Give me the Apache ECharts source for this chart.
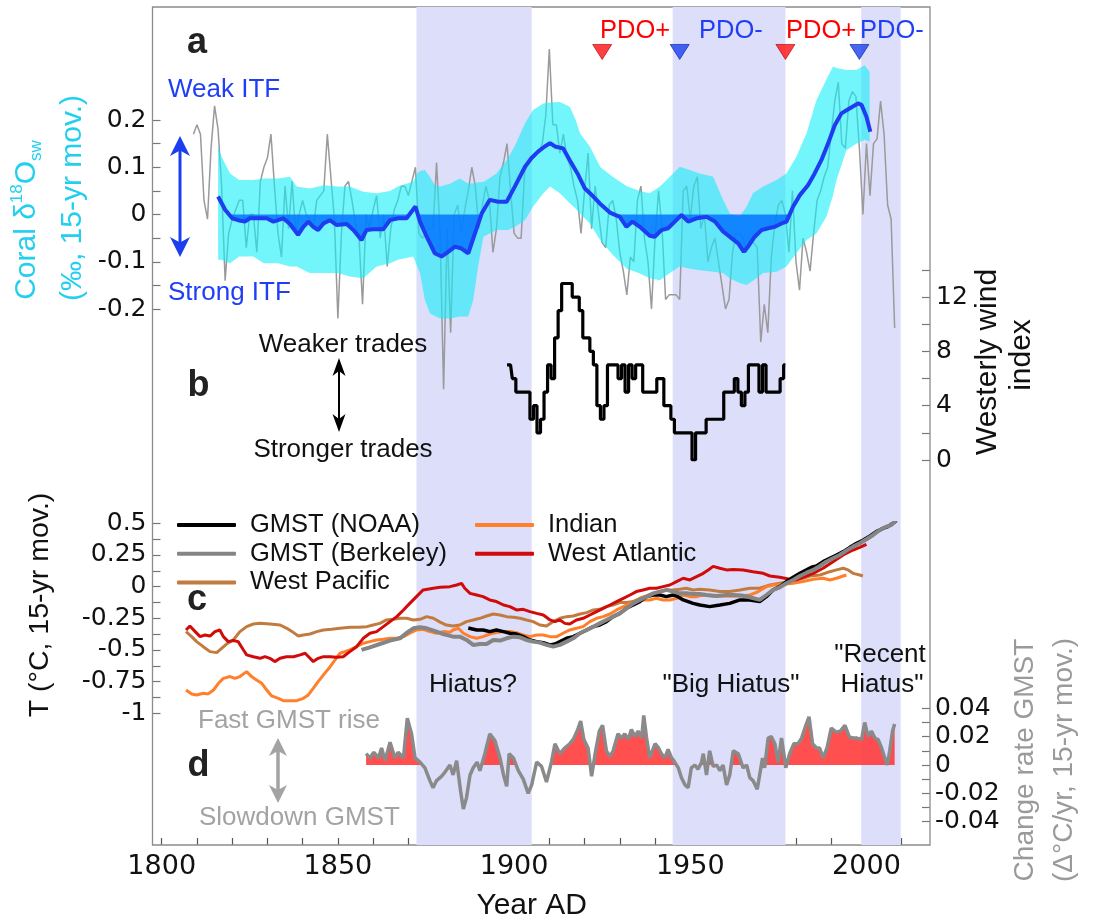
<!DOCTYPE html>
<html><head><meta charset="utf-8">
<script src="https://cdn.jsdelivr.net/npm/echarts@6/dist/echarts.min.js"></script>
<style>html,body{margin:0;padding:0;background:#fff}#chart{width:1095px;height:915px}</style>
</head><body><div id="chart"></div>
<script>
// ---------------- DATA ----------------
const hiatusBands = [[1872.3, 1905], [1945, 1977], [1998.5, 2009.7]];
const pdoYears = [1925, 1947, 1977, 1998];
const pdoLabels = ['PDO+', 'PDO-', 'PDO+', 'PDO-'];

// panel a: annual coral d18Osw (grey), start year 1809
const coralStart = 1809;
const coralAnnual = [
 0.17,0.19,0.17,0.03,-0.01,0.14,0.23,0.18,0.06,-0.14,
 -0.04,-0.01,0.01,0.03,0.03,-0.07,0.00,0.00,-0.08,0.07,
 0.10,0.12,0.17,0.06,-0.04,-0.09,0.06,-0.03,0.07,-0.04,
 0.00,0.03,0.00,-0.01,-0.03,0.03,0.04,0.05,0.17,0.08,
 -0.01,-0.22,-0.04,0.06,0.07,0.03,-0.02,-0.05,-0.19,0.00,
 -0.03,0.01,0.04,-0.05,0.00,-0.11,-0.03,0.01,0.03,0.06,
 0.06,0.04,0.07,0.10,-0.04,-0.05,-0.04,-0.03,-0.03,0.11,
 -0.04,-0.37,-0.03,-0.25,0.00,0.02,-0.04,0.01,0.05,0.10,
 0.06,-0.03,0.02,0.06,0.03,-0.08,-0.03,0.08,0.11,0.15,
 0.05,-0.04,-0.05,-0.05,0.09,0.11,0.12,0.13,0.13,0.15,
 0.21,0.35,0.19,0.19,0.13,0.17,0.12,0.10,0.06,0.03,
 -0.04,0.05,0.13,-0.03,0.06,0.00,-0.06,-0.07,0.02,0.03,
 -0.01,-0.08,-0.12,-0.17,-0.09,-0.10,0.03,0.06,-0.05,-0.10,
 -0.20,-0.05,0.05,-0.03,-0.18,-0.17,-0.17,-0.17,-0.18,0.05,
 0.06,-0.01,0.06,0.08,-0.03,0.00,-0.10,-0.07,-0.05,-0.10,
 -0.15,-0.20,-0.18,-0.08,-0.04,-0.04,-0.05,-0.08,-0.05,-0.06,
 -0.07,-0.27,-0.19,-0.25,-0.09,-0.02,0.02,0.03,0.00,-0.08,
 0.05,-0.10,-0.16,-0.05,-0.08,-0.12,-0.04,0.03,0.05,0.08,
 0.10,0.17,0.24,0.28,0.15,0.14,0.24,0.26,0.25,0.14,
 0.00,0.15,0.04,0.15,0.16,0.24,0.17,0.02,-0.01,-0.24
];
// panel a: 15-yr moving mean [year, value]
const coralMean = [[1816,0.038],[1818,0.010],[1820,-0.008],[1821.7,-0.012],[1823.6,-0.015],[1825,-0.008],[1827,-0.008],[1829.8,-0.008],[1831.7,-0.015],[1834.5,-0.008],[1836.4,-0.020],[1838.7,-0.043],[1840.2,-0.026],[1841.6,-0.015],[1843,-0.026],[1844.4,-0.033],[1845.9,-0.019],[1847.7,-0.012],[1849.6,-0.022],[1852.5,-0.020],[1854.4,-0.033],[1856.7,-0.054],[1858.1,-0.033],[1860,-0.031],[1862.9,-0.031],[1864.8,-0.012],[1867.1,-0.008],[1869.5,-0.008],[1872,0.017],[1873.3,-0.015],[1875.2,-0.047],[1877.5,-0.082],[1879.4,-0.089],[1881.3,-0.079],[1883.2,-0.068],[1885.1,-0.072],[1887,-0.082],[1888.9,-0.040],[1890.8,0.002],[1893.1,0.031],[1895.5,0.027],[1897.9,0.027],[1900.2,0.059],[1903.1,0.101],[1904.9,0.119],[1906.8,0.133],[1908.7,0.144],[1910.2,0.151],[1911.6,0.144],[1913.9,0.140],[1915.8,0.115],[1918.2,0.084],[1920.1,0.055],[1922.5,0.038],[1924.8,0.020],[1927.2,0.004],[1930,-0.005],[1931.9,-0.026],[1933.6,-0.015],[1935.7,-0.026],[1938.5,-0.045],[1939.9,-0.047],[1941.8,-0.033],[1943.7,-0.029],[1945.6,-0.015],[1947.5,-0.001],[1949.4,-0.015],[1951.8,-0.008],[1954.6,-0.005],[1957,-0.015],[1959.3,-0.036],[1961.7,-0.050],[1963.6,-0.061],[1965.2,-0.079],[1966.4,-0.068],[1968.3,-0.047],[1970.2,-0.033],[1972.1,-0.029],[1974,-0.026],[1975.9,-0.019],[1977.3,-0.015],[1979.2,0.017],[1981.1,0.041],[1983.4,0.062],[1985.3,0.087],[1987.2,0.115],[1989.1,0.150],[1991,0.189],[1992.9,0.214],[1995.3,0.225],[1997.6,0.235],[1998.6,0.232],[2000,0.207],[2001.1,0.175]];
// panel a: uncertainty envelope
const envYears = [1816,1817,1819.4,1822,1826,1829,1833,1836.4,1838.3,1842,1846,1850,1853.4,1857.2,1861,1864.8,1867,1871.4,1872.5,1873.3,1874.7,1876.1,1877.5,1879,1881.8,1884.6,1887,1888.4,1889.8,1891.3,1895,1898.3,1900.5,1903.1,1905.4,1908.3,1910.2,1913,1915.8,1917.5,1918.7,1921.5,1924.5,1928,1932,1935.7,1938.5,1941.4,1944.2,1947,1949.9,1952.7,1956.5,1959.3,1961.2,1964,1966,1967.8,1970.7,1974.5,1977.3,1980.1,1983,1985.8,1988.6,1990.5,1991.5,1994.3,1997.1,1999.5,2000.9];
const envUpper = [0.144,0.122,0.087,0.073,0.073,0.076,0.076,0.080,0.059,0.055,0.062,0.059,0.059,0.048,0.045,0.050,0.059,0.070,0.087,0.092,0.094,0.080,0.062,0.059,0.065,0.076,0.065,0.066,0.068,0.069,0.087,0.119,0.150,0.193,0.221,0.235,0.237,0.238,0.228,0.200,0.172,0.144,0.100,0.080,0.060,0.050,0.045,0.059,0.080,0.101,0.094,0.087,0.080,0.031,0.002,-0.005,0.017,0.045,0.059,0.073,0.087,0.122,0.172,0.242,0.285,0.313,0.310,0.306,0.306,0.316,0.302];
const envLower = [-0.096,-0.096,-0.103,-0.089,-0.089,-0.103,-0.103,-0.110,-0.110,-0.124,-0.124,-0.124,-0.131,-0.135,-0.110,-0.103,-0.096,-0.089,-0.110,-0.124,-0.181,-0.209,-0.215,-0.220,-0.220,-0.216,-0.216,-0.181,-0.110,-0.047,-0.033,-0.033,-0.025,-0.012,0.017,0.045,0.059,0.045,0.024,0.012,0.002,-0.019,-0.055,-0.085,-0.115,-0.125,-0.135,-0.139,-0.124,-0.110,-0.115,-0.118,-0.121,-0.124,-0.135,-0.145,-0.149,-0.140,-0.124,-0.121,-0.110,-0.082,-0.054,-0.040,-0.005,0.040,0.073,0.136,0.150,0.158,0.154];

// panel b: westerly wind index, start year 1898
const windStart = 1898;
const windIndex = [7,7,6,5,5,5,5,3,4,2, 3,5,7,6,9,11,13,13,13,12, 12,11,9,9,8,7,4,3,4,7, 7,7,6,7,5,7,6,7,7,5, 5,5,5,6,6,4,4,3,2,2, 2,2,2,0,2,2,2,3,3,3, 3,3,5,5,5,6,5,4,5,7, 7,7,5,7,5,5,5,5,6,7];

// panel c: temperatures [year, degC]
const westAtlantic = [[1806.9,-0.342],[1808,-0.311],[1809.5,-0.355],[1810.9,-0.395],[1812.3,-0.382],[1813.7,-0.39],[1815.1,-0.355],[1816.5,-0.342],[1817.5,-0.395],[1818.9,-0.434],[1820.3,-0.426],[1821.7,-0.434],[1823.2,-0.5],[1824.1,-0.539],[1826,-0.553],[1827.9,-0.566],[1829.3,-0.553],[1830.7,-0.566],[1832.1,-0.592],[1833.6,-0.566],[1835.4,-0.553],[1837.4,-0.553],[1839.3,-0.539],[1840.7,-0.526],[1842.1,-0.566],[1843,-0.592],[1844.4,-0.566],[1845.9,-0.553],[1847.8,-0.553],[1849.6,-0.558],[1851.5,-0.553],[1853.4,-0.513],[1855.3,-0.474],[1857.2,-0.408],[1859.1,-0.368],[1861,-0.355],[1862.9,-0.316],[1864.8,-0.276],[1866.7,-0.237],[1868.6,-0.184],[1870.4,-0.132],[1872.3,-0.079],[1874.2,-0.026],[1877.1,-0.013],[1879,-0.005],[1881.8,0.0],[1883.7,0.013],[1885.1,0.026],[1886,-0.013],[1887.5,-0.053],[1889.4,-0.066],[1891.2,-0.079],[1893.1,-0.105],[1895,-0.118],[1897,-0.145],[1898.8,-0.158],[1900.7,-0.184],[1902.6,-0.179],[1904.5,-0.197],[1906.4,-0.211],[1908.3,-0.224],[1910.2,-0.263],[1911.6,-0.276],[1913,-0.263],[1914.4,-0.29],[1915.8,-0.295],[1917.7,-0.263],[1919.6,-0.25],[1921.5,-0.224],[1923.4,-0.197],[1925.3,-0.171],[1927.2,-0.145],[1929.1,-0.118],[1931,-0.092],[1932.9,-0.066],[1934.7,-0.039],[1936.6,-0.026],[1938.5,-0.013],[1940.4,-0.013],[1942.3,0.0],[1944.2,0.013],[1946.1,0.04],[1948,0.066],[1949.9,0.053],[1951.8,0.079],[1953.7,0.105],[1955.1,0.132],[1956.5,0.16],[1958.4,0.145],[1960.3,0.132],[1962.2,0.135],[1965,0.132],[1967.8,0.118],[1970.7,0.105],[1972.6,0.084],[1975.4,0.074],[1978.2,0.058],[1980.1,0.053],[1982,0.074],[1984.9,0.105],[1987.7,0.145],[1990.5,0.197],[1993.4,0.25],[1996.2,0.289],[1998.1,0.31],[2000,0.334]];
const indian = [[1806.9,-0.816],[1808.5,-0.847],[1809.9,-0.855],[1811.8,-0.842],[1813.2,-0.847],[1814.7,-0.816],[1816.1,-0.763],[1817.5,-0.724],[1819.4,-0.71],[1820.8,-0.724],[1822.2,-0.71],[1824.1,-0.671],[1825.5,-0.71],[1826.9,-0.737],[1828.4,-0.763],[1829.8,-0.816],[1831.2,-0.863],[1833.1,-0.882],[1834.5,-0.9],[1836.4,-0.9],[1838.3,-0.9],[1840.2,-0.882],[1841.6,-0.855],[1843,-0.803],[1844.4,-0.75],[1845.9,-0.697],[1847.8,-0.632],[1849.2,-0.579],[1850.6,-0.526],[1852,-0.513],[1853.4,-0.5],[1855.3,-0.474],[1857.2,-0.447],[1859.1,-0.434],[1861,-0.421],[1862.9,-0.416],[1864.8,-0.408],[1866.7,-0.408],[1868.6,-0.395],[1870.4,-0.368],[1872.3,-0.342],[1874.2,-0.337],[1876.1,-0.355],[1878,-0.368],[1879.9,-0.355],[1881.8,-0.36],[1882.7,-0.342],[1884.2,-0.329],[1885.6,-0.368],[1887.5,-0.395],[1889.4,-0.408],[1891.2,-0.395],[1893.1,-0.374],[1895,-0.363],[1897,-0.355],[1898.8,-0.355],[1900.7,-0.363],[1902.6,-0.382],[1904.5,-0.395],[1906.4,-0.382],[1908.3,-0.382],[1910.2,-0.395],[1912.1,-0.395],[1913.9,-0.368],[1915.8,-0.342],[1917.7,-0.329],[1919.6,-0.316],[1921.5,-0.276],[1923.4,-0.25],[1925.3,-0.237],[1927.2,-0.216],[1929.1,-0.184],[1931,-0.158],[1932.9,-0.132],[1934.7,-0.118],[1936.6,-0.105],[1938.5,-0.105],[1940.4,-0.092],[1942.3,-0.105],[1944.2,-0.105],[1946.1,-0.092],[1948,-0.066],[1949.9,-0.079],[1951.8,-0.079],[1953.7,-0.066],[1956.5,-0.074],[1959.3,-0.074],[1962,-0.076],[1964.1,-0.074],[1966.9,-0.066],[1969.3,-0.039],[1971.6,0.0],[1973.5,0.013],[1976.3,0.018],[1979.2,0.026],[1982,0.04],[1984.9,0.058],[1987.7,0.066],[1989.6,0.053],[1991.5,0.066],[1993.4,0.084],[1994.3,0.092]];
const westPacific = [[1806.9,-0.355],[1808.5,-0.395],[1809.9,-0.434],[1811.8,-0.474],[1813.7,-0.513],[1815.6,-0.521],[1817,-0.487],[1818.4,-0.453],[1820.3,-0.421],[1822.2,-0.355],[1824.1,-0.316],[1826,-0.295],[1827.9,-0.29],[1830.7,-0.295],[1833.6,-0.303],[1835.5,-0.329],[1837.4,-0.363],[1838.8,-0.39],[1840.2,-0.382],[1842.1,-0.374],[1844,-0.355],[1845.9,-0.342],[1848.2,-0.337],[1850.6,-0.329],[1853.4,-0.321],[1855.8,-0.321],[1858.2,-0.316],[1860,-0.303],[1861.9,-0.29],[1863.8,-0.263],[1865.7,-0.258],[1867.6,-0.25],[1869.5,-0.25],[1871.4,-0.263],[1873.3,-0.258],[1875.2,-0.237],[1877.1,-0.25],[1879,-0.28],[1880.8,-0.303],[1882.7,-0.311],[1884.6,-0.303],[1886.5,-0.276],[1888.4,-0.263],[1890.3,-0.25],[1892.2,-0.232],[1894.1,-0.216],[1896,-0.224],[1897.9,-0.237],[1899.8,-0.242],[1901.7,-0.25],[1903.5,-0.263],[1905.4,-0.276],[1907.3,-0.303],[1909.2,-0.311],[1911.1,-0.276],[1913,-0.25],[1914.9,-0.237],[1916.8,-0.232],[1918.7,-0.216],[1920.6,-0.205],[1922.5,-0.184],[1924.3,-0.179],[1926.2,-0.158],[1928.1,-0.145],[1930,-0.126],[1931.9,-0.126],[1933.8,-0.118],[1935.7,-0.092],[1937.6,-0.074],[1939.5,-0.053],[1941.4,-0.039],[1943.3,-0.026],[1945.1,-0.026],[1947,-0.021],[1948.9,-0.013],[1950.8,-0.026],[1952.7,-0.021],[1955.5,-0.026],[1958.4,-0.039],[1961.2,-0.039],[1964.1,-0.026],[1966.9,-0.013],[1969.7,-0.013],[1972.6,0.013],[1975.4,0.026],[1978.2,0.04],[1981.1,0.058],[1984,0.084],[1986.8,0.092],[1989.6,0.118],[1991.5,0.132],[1993.4,0.145],[1994.8,0.132],[1996.2,0.105],[1998.1,0.092],[1999,0.084]];
const gmstNoaa = [[1887,-0.326],[1889.4,-0.342],[1891.2,-0.342],[1893.1,-0.355],[1895,-0.342],[1897,-0.355],[1898.8,-0.368],[1900.7,-0.374],[1902.6,-0.395],[1904.5,-0.421],[1906.4,-0.434],[1908.3,-0.442],[1910.2,-0.46],[1911.6,-0.453],[1913,-0.434],[1914.9,-0.408],[1916.8,-0.395],[1918.7,-0.368],[1920.6,-0.342],[1922.5,-0.316],[1924.3,-0.303],[1926.2,-0.276],[1928.1,-0.237],[1930,-0.211],[1931.9,-0.171],[1933.8,-0.145],[1935.7,-0.118],[1937.6,-0.079],[1939.5,-0.066],[1941.4,-0.066],[1943.2,-0.079],[1945.1,-0.066],[1946,-0.072],[1948,-0.105],[1950.8,-0.132],[1952.7,-0.145],[1955.5,-0.158],[1958.4,-0.145],[1961.2,-0.132],[1964.1,-0.105],[1966.9,-0.105],[1969.7,-0.118],[1971.6,-0.079],[1973.5,-0.026],[1975.4,0.0],[1977.3,0.04],[1979.2,0.074],[1981.1,0.105],[1983,0.132],[1984.4,0.153],[1985.8,0.163],[1987.7,0.197],[1989.6,0.224],[1991.5,0.25],[1993.4,0.276],[1995.3,0.31],[1997.2,0.342],[1999.1,0.368],[2001,0.4],[2002.8,0.434],[2004.7,0.46],[2006.1,0.474],[2007.5,0.5],[2008.5,0.521]];
const gmstBerkeley = [[1856.7,-0.5],[1859.1,-0.479],[1861.9,-0.453],[1864.8,-0.426],[1867.6,-0.408],[1870,-0.355],[1871.4,-0.329],[1873.3,-0.321],[1875.2,-0.329],[1878,-0.355],[1879.9,-0.375],[1882.7,-0.395],[1884.6,-0.395],[1886.5,-0.421],[1888.4,-0.46],[1890.3,-0.453],[1892.2,-0.453],[1894.1,-0.421],[1896,-0.426],[1897.9,-0.408],[1899.8,-0.395],[1901.7,-0.4],[1903.5,-0.421],[1905.4,-0.434],[1907.3,-0.442],[1909.2,-0.46],[1911.1,-0.474],[1913,-0.46],[1914.9,-0.434],[1916.8,-0.408],[1918.7,-0.368],[1920.6,-0.342],[1922.5,-0.316],[1924.3,-0.29],[1926.2,-0.263],[1928.1,-0.237],[1930,-0.211],[1931.9,-0.171],[1933.8,-0.132],[1935.7,-0.105],[1937.6,-0.079],[1939.5,-0.053],[1941.4,-0.039],[1943.3,-0.026],[1945.1,-0.039],[1947,-0.053],[1948.9,-0.053],[1950.8,-0.058],[1952.7,-0.058],[1954.6,-0.066],[1957.4,-0.074],[1960.3,-0.066],[1962.2,-0.066],[1964.5,-0.07],[1966.9,-0.084],[1969.7,-0.105],[1971.6,-0.066],[1973.5,-0.026],[1975.4,-0.005],[1977.3,0.026],[1979.2,0.053],[1981.1,0.084],[1983,0.11],[1984.9,0.132],[1986.8,0.163],[1988.6,0.197],[1990.5,0.224],[1992.4,0.25],[1994.3,0.284],[1996.2,0.316],[1998.1,0.342],[2000,0.374],[2001.9,0.408],[2003.8,0.447],[2005.7,0.474],[2007.1,0.487],[2008,0.513],[2008.5,0.526]];

// panel d: change rate of GMST [year, degC/yr]
const gmstRate = [[1858,0.008],[1859.1,0.005],[1860.2,0.009],[1861.5,0.005],[1862.4,0.012],[1863.4,0.003],[1864.8,0.016],[1866.2,0.005],[1867.1,0.009],[1868.6,0.005],[1869.7,0.033],[1870.9,0.022],[1871.9,0.005],[1873.3,0.002],[1874.7,-0.002],[1876.1,-0.011],[1877,-0.016],[1878,-0.011],[1879.4,-0.008],[1880.4,-0.005],[1881.8,0.0],[1882.7,-0.007],[1883.7,0.003],[1884.8,-0.018],[1885.6,-0.031],[1886.5,-0.023],[1887.5,-0.007],[1888.4,-0.002],[1889.5,0.002],[1890.3,-0.004],[1891.7,0.008],[1893.1,0.022],[1894.6,0.017],[1896,0.005],[1897,-0.007],[1897.9,-0.015],[1898.6,0.008],[1899.8,0.005],[1901.2,-0.004],[1902.6,-0.01],[1904,-0.02],[1905,-0.014],[1906.4,0.002],[1907.8,-0.001],[1909.2,-0.012],[1910.6,0.002],[1911.6,0.015],[1913,0.008],[1914.4,0.012],[1915.8,0.015],[1916.8,0.018],[1917.9,0.024],[1918.9,0.031],[1919.8,0.018],[1921,0.012],[1922,-0.008],[1923,0.008],[1924.2,0.024],[1925.1,0.028],[1926.2,0.01],[1927.2,0.006],[1928.1,0.01],[1929.5,0.022],[1930.5,0.019],[1931.4,0.022],[1932.4,0.018],[1933.3,0.025],[1934.3,0.02],[1935.2,0.024],[1936.2,0.019],[1936.8,0.035],[1937.6,0.019],[1938.5,0.005],[1940,0.015],[1941,0.012],[1941.8,0.008],[1942.8,0.005],[1943.7,0.011],[1944.7,0.005],[1945.6,0.002],[1946.6,-0.002],[1947.5,-0.009],[1948.5,-0.014],[1949.4,-0.016],[1950.3,-0.002],[1951.3,0.0],[1952.2,-0.003],[1953.2,0.002],[1953.7,0.008],[1954.6,-0.007],[1955.5,0.01],[1956.5,-0.001],[1957.5,0.0],[1958.4,-0.004],[1959.3,0.0],[1960.3,-0.014],[1961.2,-0.007],[1962.2,0.01],[1963.6,0.008],[1965,-0.002],[1966,0.0],[1966.9,-0.009],[1967.8,-0.011],[1969,-0.017],[1969.7,-0.007],[1970.5,0.005],[1971.1,-0.002],[1972.1,0.019],[1973,0.02],[1974,0.015],[1974.9,0.002],[1975.9,0.019],[1977.1,-0.002],[1978.2,0.008],[1979.4,0.015],[1980.6,0.015],[1981.6,0.019],[1982.8,0.028],[1983.7,0.034],[1984.7,0.015],[1985.8,0.012],[1986.7,0.012],[1987.7,0.005],[1988.8,0.012],[1990,0.026],[1991.5,0.023],[1992.6,0.024],[1993.9,0.028],[1995.1,0.02],[1996.2,0.019],[1997.3,0.019],[1998.6,0.018],[1999.5,0.03],[2000.5,0.02],[2001.4,0.024],[2002.4,0.019],[2003.3,0.018],[2004.3,0.012],[2005.2,0.005],[2005.9,0.0],[2006.6,0.01],[2007.4,0.024],[2008,0.029]];

// ---------------- CHART ----------------
const FONT = "'Liberation Sans', Arial, Helvetica, sans-serif";
const NUMFONT = "'DejaVu Sans', Verdana, sans-serif";
const X_MIN = 1800, X_MAX = 2010;
const PLOT_L = 161.7, PLOT_W = 740;
const chart = echarts.init(document.getElementById('chart'), null, {renderer: 'canvas'});

function oneSidedFill(api, pairs, sign) {
  const pts = [];
  for (let i = 0; i < pairs.length; i++) {
    const [x, v] = pairs[i];
    if (i > 0) {
      const [x0, v0] = pairs[i - 1];
      if ((v0 > 0 && v < 0) || (v0 < 0 && v > 0)) {
        const t = v0 / (v0 - v);
        pts.push([x0 + t * (x - x0), 0]);
      }
    }
    pts.push([x, sign > 0 ? Math.max(v, 0) : Math.min(v, 0)]);
  }
  const first = pts[0][0], last = pts[pts.length - 1][0];
  return [[first, 0], ...pts, [last, 0]].map(p => api.coord(p));
}

const tickStyle = {show: true, inside: true, length: 8, lineStyle: {color: '#777', width: 1.2}};
const lblStyle = {color: '#111', fontSize: 25, fontFamily: NUMFONT};
function hiddenX(gi) { return {type: 'value', gridIndex: gi, min: X_MIN, max: X_MAX, show: false}; }

const grids = [
  {left: PLOT_L, width: PLOT_W, top: 7, height: 838},           // 0 axis + bands
  {left: 152.5, width: 777.5, top: 7, height: 838, show: true, borderColor: '#8c8c8c', borderWidth: 1.3, backgroundColor: 'transparent', z: 1}, // 1 frame
  {left: PLOT_L, width: PLOT_W, top: 120, height: 189},          // 2 panel a
  {left: PLOT_L, width: PLOT_W, top: 269.9, height: 190.1},      // 3 panel b
  {left: PLOT_L, width: PLOT_W, top: 523.3, height: 190},        // 4 panel c
  {left: PLOT_L, width: PLOT_W, top: 708.3, height: 113.4}       // 5 panel d
].map(g => Object.assign({containLabel: false, outerBoundsMode: 'none'}, g));

const option = {
  animation: false,
  backgroundColor: '#fff',
  textStyle: {fontFamily: FONT},
  grid: grids,
  xAxis: [
    {type: 'value', gridIndex: 0, min: X_MIN, max: X_MAX, interval: 10,
     axisLine: {show: false}, splitLine: {show: false},
     axisTick: {show: true, inside: true, length: 7, lineStyle: {color: '#555', width: 1.2}},
     axisLabel: {color: '#111', fontSize: 27, fontFamily: NUMFONT, margin: 8,
       formatter: v => (Math.round(v) % 50 === 0 ? String(Math.round(v)) : '')},
     name: 'Year AD', nameLocation: 'middle', nameGap: 46,
     nameTextStyle: {color: '#111', fontSize: 30, fontFamily: FONT}},
    {type: 'value', gridIndex: 1, min: 0, max: 1, show: false},
    hiddenX(2), hiddenX(3), hiddenX(4), hiddenX(5)
  ],
  yAxis: [
    {type: 'value', gridIndex: 0, min: 0, max: 1, show: false},
    {type: 'value', gridIndex: 1, min: 0, max: 1, show: false},
    {type: 'value', gridIndex: 2, min: -0.2, max: 0.2, interval: 0.05, offset: PLOT_L - 152.5,
     axisLine: {show: false}, splitLine: {show: false}, axisTick: tickStyle,
     axisLabel: Object.assign({margin: 6, formatter: v => { const k = Math.round(v * 20); return k % 2 === 0 ? String(k / 20) : ''; }}, lblStyle)},
    {type: 'value', gridIndex: 3, position: 'right', min: 0, max: 14, interval: 2, offset: 930 - (PLOT_L + PLOT_W),
     axisLine: {show: false}, splitLine: {show: false}, axisTick: tickStyle,
     axisLabel: Object.assign({margin: 6, formatter: v => { const k = Math.round(v); return k % 4 === 0 ? String(k) : ''; }}, lblStyle)},
    {type: 'value', gridIndex: 4, min: -1, max: 0.5, interval: 0.125, offset: PLOT_L - 152.5,
     axisLine: {show: false}, splitLine: {show: false}, axisTick: tickStyle,
     axisLabel: Object.assign({margin: 6, formatter: v => { const k = Math.round(v * 8); return k % 2 === 0 ? String(k / 8) : ''; }}, lblStyle)},
    {type: 'value', gridIndex: 5, position: 'right', min: -0.04, max: 0.04, interval: 0.01, offset: 930 - (PLOT_L + PLOT_W),
     axisLine: {show: false}, splitLine: {show: false}, axisTick: tickStyle,
     axisLabel: Object.assign({margin: 5, formatter: v => { const k = Math.round(v * 100); return k % 2 === 0 ? String(k / 100) : ''; }}, lblStyle)}
  ],
  legend: [
    {data: ['GMST (NOAA)', 'GMST (Berkeley)', 'West Pacific'], left: 172, top: 507, orient: 'vertical',
     itemWidth: 59, itemHeight: 4, itemGap: 2.7, icon: 'roundRect', selectedMode: false,
     textStyle: {fontSize: 25.5, color: '#111', fontFamily: FONT, lineHeight: 26, padding: [0, 0, 0, 9]}},
    {data: ['Indian', 'West Atlantic'], left: 470, top: 507, orient: 'vertical',
     itemWidth: 59, itemHeight: 4, itemGap: 2.7, icon: 'roundRect', selectedMode: false,
     textStyle: {fontSize: 25.5, color: '#111', fontFamily: FONT, lineHeight: 26, padding: [0, 0, 0, 9]}}
  ],
  series: [
    // hiatus bands
    {type: 'line', xAxisIndex: 0, yAxisIndex: 0, data: [[X_MIN, 0], [X_MAX, 0]], symbol: 'none', silent: true,
     lineStyle: {opacity: 0}, z: 0,
     markArea: {silent: true, itemStyle: {color: '#dddefa'}, data: hiatusBands.map(b => [{xAxis: b[0]}, {xAxis: b[1]}])}},
    // panel a
    {name: 'annual', type: 'line', xAxisIndex: 2, yAxisIndex: 2, clip: false, symbol: 'none', silent: true, z: 2,
     data: coralAnnual.map((v, i) => [coralStart + i, v]), lineStyle: {color: '#9a9a9a', width: 1.5}},
    {type: 'custom', xAxisIndex: 2, yAxisIndex: 2, clip: false, silent: true, z: 3, data: [[X_MIN, 0]],
     renderItem: (p, api) => {
       const up = envYears.map((y, i) => api.coord([y, envUpper[i]]));
       const lo = envYears.map((y, i) => api.coord([y, envLower[i]])).reverse();
       return {type: 'polygon', shape: {points: up.concat(lo)}, style: {fill: 'rgba(20,238,248,0.6)'}};
     }},
    {type: 'custom', xAxisIndex: 2, yAxisIndex: 2, clip: false, silent: true, z: 4, data: [[X_MIN, 0]],
     renderItem: (p, api) => ({type: 'polygon', shape: {points: oneSidedFill(api, coralMean, -1)}, style: {fill: 'rgba(0,112,255,0.82)'}})},
    {name: 'mean', type: 'line', xAxisIndex: 2, yAxisIndex: 2, clip: false, symbol: 'none', silent: true, z: 5,
     data: coralMean, lineStyle: {color: '#1e3cf0', width: 4}},
    {type: 'scatter', xAxisIndex: 2, yAxisIndex: 2, clip: false, silent: true, z: 6,
     symbol: 'triangle', symbolRotate: 180, symbolSize: [19, 15],
     data: pdoYears.map((y, i) => ({value: [y, 0.344], itemStyle: {color: pdoLabels[i] === 'PDO+' ? '#ff1010' : '#1a3ef0', borderColor: pdoLabels[i] === 'PDO+' ? '#a00' : '#0a1f90', borderWidth: 0.8}}))},
    // panel b
    {name: 'wind', type: 'line', xAxisIndex: 3, yAxisIndex: 3, step: 'middle', symbol: 'none', silent: true, z: 5,
     data: windIndex.map((v, i) => [windStart + i, v]), lineStyle: {color: '#000', width: 3.2}},
    // panel c
    {name: 'West Pacific', type: 'line', xAxisIndex: 4, yAxisIndex: 4, symbol: 'none', silent: true, z: 5,
     data: westPacific, color: '#c27b3e', lineStyle: {color: '#c27b3e', width: 3}},
    {name: 'Indian', type: 'line', xAxisIndex: 4, yAxisIndex: 4, symbol: 'none', silent: true, z: 5,
     data: indian, color: '#ff7f2a', lineStyle: {color: '#ff7f2a', width: 3}},
    {name: 'West Atlantic', type: 'line', xAxisIndex: 4, yAxisIndex: 4, symbol: 'none', silent: true, z: 5,
     data: westAtlantic, color: '#d10a0a', lineStyle: {color: '#d10a0a', width: 3}},
    {name: 'GMST (NOAA)', type: 'line', xAxisIndex: 4, yAxisIndex: 4, symbol: 'none', silent: true, z: 6,
     data: gmstNoaa, color: '#000', lineStyle: {color: '#000', width: 3.5}},
    {name: 'GMST (Berkeley)', type: 'line', xAxisIndex: 4, yAxisIndex: 4, symbol: 'none', silent: true, z: 6,
     data: gmstBerkeley, color: '#858585', lineStyle: {color: '#858585', width: 4}},
    // panel d
    {type: 'custom', xAxisIndex: 5, yAxisIndex: 5, clip: false, silent: true, z: 4, data: [[X_MIN, 0]],
     renderItem: (p, api) => ({type: 'polygon', shape: {points: oneSidedFill(api, gmstRate, 1)}, style: {fill: 'rgba(255,60,60,0.9)'}})},
    {name: 'rate', type: 'line', xAxisIndex: 5, yAxisIndex: 5, symbol: 'none', silent: true, z: 5,
     data: gmstRate, lineStyle: {color: '#8a8a8a', width: 3.5}}
  ],
  graphic: []
};

// ---- annotations ----
const G = option.graphic;
function txt(text, x, y, o) {
  G.push({type: 'text', x: x, y: y, rotation: (o && o.rot) || 0, silent: true, z: 20,
    style: Object.assign({text: text, fill: '#111', fontSize: 26, fontFamily: FONT,
      align: 'center', verticalAlign: 'middle'}, (o && o.style) || {})});
}
function arrow(x, y1, y2, color, lw, hw, hl) {
  G.push({type: 'line', silent: true, z: 20, shape: {x1: x, y1: y1 + hl * 0.6, x2: x, y2: y2 - hl * 0.6},
    style: {stroke: color, lineWidth: lw}});
  G.push({type: 'polygon', silent: true, z: 20, shape: {points: [[x, y1], [x - hw / 2, y1 + hl], [x, y1 + hl * 0.72], [x + hw / 2, y1 + hl]]}, style: {fill: color}});
  G.push({type: 'polygon', silent: true, z: 20, shape: {points: [[x, y2], [x - hw / 2, y2 - hl], [x, y2 - hl * 0.72], [x + hw / 2, y2 - hl]]}, style: {fill: color}});
}
// panel letters
[['a', 197, 43.5], ['b', 198.5, 386.5], ['c', 197, 600.5], ['d', 198.5, 766.5]].forEach(l =>
  txt(l[0], l[1], l[2], {style: {fontSize: 36, fontWeight: 'bold', fill: '#222'}}));
// panel a texts
txt('Weak ITF', 168, 90, {style: {align: 'left', fill: '#1f3ef5'}});
txt('Strong ITF', 168, 293, {style: {align: 'left', fill: '#1f3ef5'}});
arrow(180, 136, 257, '#1a3ef0', 3, 20, 20);
[[600, '#f00'], [699, '#1f3ef5'], [786, '#f00'], [860, '#1f3ef5']].forEach((p, i) =>
  txt(pdoLabels[i], p[0], 31, {style: {align: 'left', fill: p[1], fontSize: 25.5}}));
// panel b texts
txt('Weaker trades', 343, 345);
txt('Stronger trades', 343, 450);
arrow(339, 358, 432, '#000', 2, 13, 18);
// panel c/d texts
txt('Hiatus?', 473, 685);
txt('"Big Hiatus"', 731, 685);
txt('"Recent', 880, 655);
txt('Hiatus"', 882, 685);
txt('Fast GMST rise', 198, 721, {style: {align: 'left', fill: '#a3a3a3'}});
txt('Slowdown GMST', 199, 818, {style: {align: 'left', fill: '#a3a3a3'}});
arrow(278, 738, 803, '#a3a3a3', 3.5, 18, 18);
// axis titles
const R = Math.PI / 2;
G.push({type: 'text', x: 27, y: 220, rotation: R, silent: true, z: 20,
  style: {text: 'Coral δ{sup|18}O{sub|sw}', fill: '#22cfee', fontSize: 30, fontFamily: FONT, align: 'center', verticalAlign: 'middle', lineHeight: 36,
    rich: {sup: {fontSize: 17, fill: '#22cfee', fontFamily: FONT, verticalAlign: 'top', lineHeight: 36},
           sub: {fontSize: 17, fill: '#22cfee', fontFamily: FONT, verticalAlign: 'bottom', lineHeight: 36}}}});
txt('(‰, 15-yr mov.)', 73, 198, {rot: R, style: {fill: '#22cfee', fontSize: 30}});
txt('T (°C, 15-yr mov.)', 40, 605, {rot: R, style: {fontSize: 28.5}});
txt('Westerly wind', 988, 362, {rot: R, style: {fontSize: 30}});
txt('index', 1022, 355, {rot: R, style: {fontSize: 30}});
txt('Change rate GMST', 1025, 760, {rot: R, style: {fontSize: 28, fill: '#9a9a9a'}});
txt('(Δ°C/yr, 15-yr mov.)', 1064, 760, {rot: R, style: {fontSize: 28, fill: '#9a9a9a'}});

chart.setOption(option);
</script></body></html>
